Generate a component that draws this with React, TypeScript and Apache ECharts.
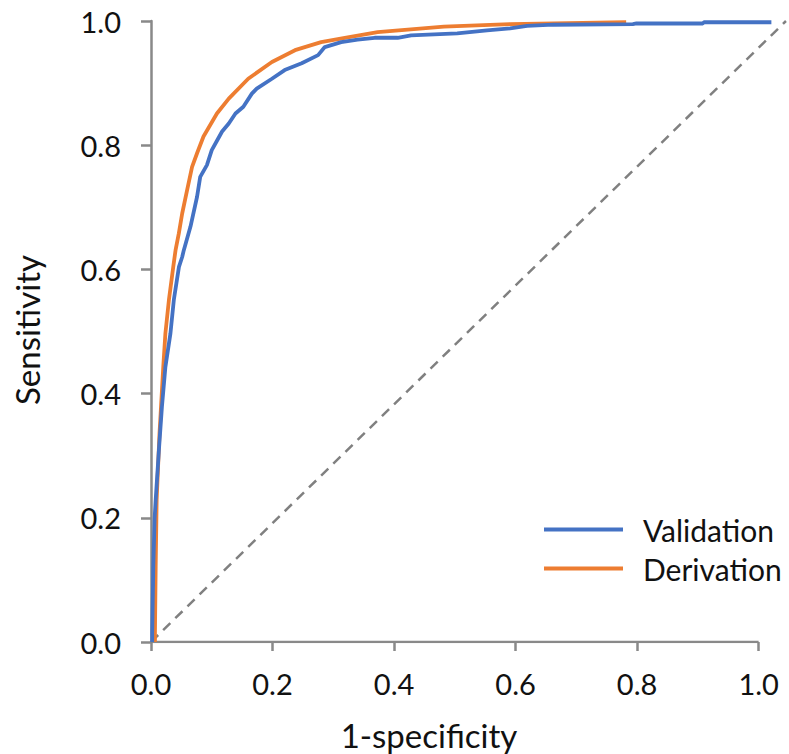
import React, { useEffect, useRef } from "react";
import * as echarts from "echarts";

// ROC curve points: [1-specificity, sensitivity]
const validation: [number, number][] = [
  [0.002, 0.0], [0.002, 0.015], [0.0038, 0.122], [0.006, 0.2], [0.0077, 0.229],
  [0.013, 0.309], [0.018, 0.379], [0.0237, 0.443], [0.032, 0.497], [0.0376, 0.551],
  [0.046, 0.604], [0.0513, 0.62], [0.054, 0.631], [0.065, 0.669], [0.0758, 0.717],
  [0.081, 0.749], [0.092, 0.768], [0.1, 0.792], [0.109, 0.808], [0.117, 0.822],
  [0.128, 0.835], [0.139, 0.851], [0.152, 0.862], [0.166, 0.883], [0.174, 0.891],
  [0.199, 0.907], [0.22, 0.921], [0.248, 0.932], [0.275, 0.945], [0.286, 0.958],
  [0.313, 0.966], [0.34, 0.97], [0.368, 0.973], [0.406, 0.973], [0.428, 0.977],
  [0.504, 0.98], [0.553, 0.985], [0.591, 0.988], [0.619, 0.992], [0.662, 0.994],
  [0.793, 0.995], [0.799, 0.996], [0.908, 0.996], [0.91, 0.998], [1.021, 0.998],
];

const derivation: [number, number][] = [
  [0.0065, 0.0], [0.0065, 0.015], [0.0077, 0.122], [0.0093, 0.229], [0.014, 0.336],
  [0.0159, 0.368], [0.0202, 0.443], [0.0237, 0.497], [0.0295, 0.551], [0.0366, 0.604],
  [0.0404, 0.631], [0.0458, 0.658], [0.0513, 0.69], [0.0595, 0.728], [0.0676, 0.765],
  [0.0758, 0.787], [0.0864, 0.814], [0.1085, 0.851], [0.128, 0.875], [0.16, 0.907],
  [0.199, 0.934], [0.237, 0.953], [0.28, 0.966], [0.319, 0.973], [0.373, 0.982],
  [0.482, 0.991], [0.591, 0.995], [0.782, 0.998],
];

// chance (diagonal) reference line
const reference: [number, number][] = [
  [0, 0], [1.045, 1.0],
];

// the drawn x axis line runs from 0 to 1.0
const xAxisLine: [number, number][] = [
  [0, 0], [1.0, 0],
];

const xTicks = [0, 0.2, 0.4, 0.6, 0.8, 1.0];
const seriesNames = ["Validation", "Derivation"];
const xTitle = "1-specificity";
const yTitle = "Sensitivity";

const FONT = "Lato, 'Open Sans', sans-serif";
const AXIS_COLOR = "#898989";
const TEXT_COLOR = "#111111";

export default function App() {
  const ref = useRef<HTMLDivElement>(null);
  useEffect(() => {
    if (!ref.current) return;
    const chart = echarts.init(ref.current, null, { renderer: "svg" });
    const labelStyle = {
      fontSize: 29,
      fontFamily: FONT,
      color: TEXT_COLOR,
      formatter: (v: number) => v.toFixed(1),
    };
    chart.setOption({
      animation: false,
      backgroundColor: "#ffffff",
      grid: { left: 151, width: 642.6, top: 21, bottom: 112, containLabel: false },
      xAxis: {
        type: "value",
        min: 0,
        max: 1.05,
        splitLine: { show: false },
        axisLine: { show: false },
        axisTick: {
          show: true,
          inside: false,
          length: 9,
          customValues: xTicks,
          lineStyle: { color: AXIS_COLOR, width: 2.5 },
        },
        axisLabel: { ...labelStyle, margin: 27, customValues: xTicks },
      },
      yAxis: {
        type: "value",
        min: 0,
        max: 1,
        interval: 0.2,
        splitLine: { show: false },
        axisLine: { show: true, onZero: false, lineStyle: { color: AXIS_COLOR, width: 2.5 } },
        axisTick: { show: true, inside: false, length: 10, lineStyle: { color: AXIS_COLOR, width: 2.5 } },
        axisLabel: { ...labelStyle, margin: 30 },
      },
      legend: {
        data: seriesNames,
        orient: "vertical",
        left: 544,
        top: 510,
        padding: 0,
        itemWidth: 79,
        itemHeight: 4,
        itemGap: 0,
        icon: "rect",
        textStyle: {
          fontSize: 30,
          fontFamily: FONT,
          color: TEXT_COLOR,
          lineHeight: 39,
          padding: [0, 0, 0, 15],
        },
      },
      graphic: [
        {
          type: "text",
          x: 429,
          y: 735,
          style: {
            text: xTitle,
            font: `33px ${FONT}`,
            fill: TEXT_COLOR,
            align: "center",
            verticalAlign: "middle",
          },
        },
        {
          type: "text",
          x: 27,
          y: 330,
          rotation: Math.PI / 2,
          style: {
            text: yTitle,
            font: `33px ${FONT}`,
            fill: TEXT_COLOR,
            align: "center",
            verticalAlign: "middle",
          },
        },
      ],
      series: [
        {
          name: "xAxisLine",
          type: "line",
          data: xAxisLine,
          showSymbol: false,
          silent: true,
          z: 1,
          lineStyle: { color: AXIS_COLOR, width: 2.5 },
        },
        {
          name: "Reference",
          type: "line",
          data: reference,
          showSymbol: false,
          clip: false,
          silent: true,
          z: 1,
          lineStyle: { color: "#808080", width: 2.5, type: [10, 7] },
        },
        {
          name: "Derivation",
          type: "line",
          data: derivation,
          showSymbol: false,
          clip: false,
          z: 2,
          color: "#ED7D31",
          lineStyle: { color: "#ED7D31", width: 3.8 },
        },
        {
          name: "Validation",
          type: "line",
          data: validation,
          showSymbol: false,
          clip: false,
          z: 3,
          color: "#4472C4",
          lineStyle: { color: "#4472C4", width: 3.8 },
        },
      ],
    });
    return () => chart.dispose();
  }, []);
  return (
    <div
      ref={ref}
      style={{ position: "fixed", left: 0, top: 0, width: 789, height: 754, background: "#fff" }}
    />
  );
}
